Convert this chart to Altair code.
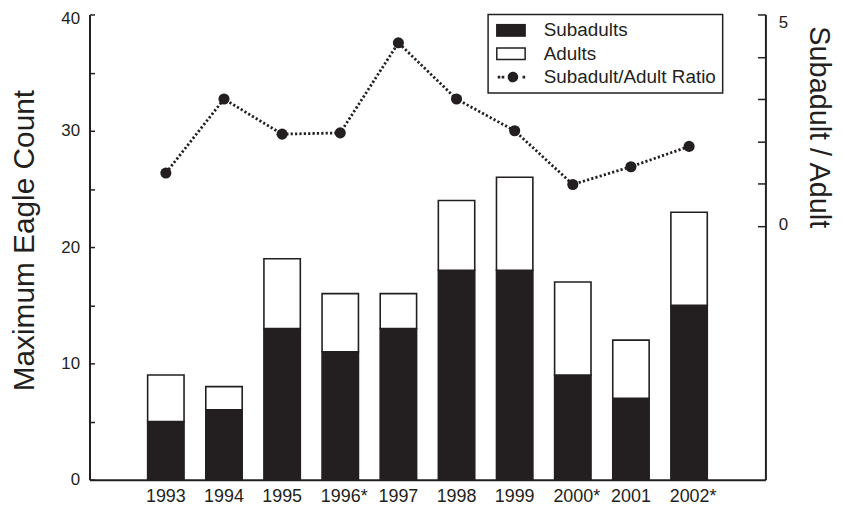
import json
import altair as alt
import pandas as pd

# ---------------- data ----------------
years = ["1993", "1994", "1995", "1996", "1997", "1998", "1999", "2000", "2001", "2002"]
starred_years = ["1996", "2000", "2002"]
subadults = [5, 6, 13, 11, 13, 18, 18, 9, 7, 15]
adults = [4, 2, 6, 5, 3, 6, 8, 8, 5, 8]
ratio = [1.25, 3.0, 2.17, 2.2, 4.33, 3.0, 2.25, 0.98, 1.4, 1.88]
count_ticks = [0, 5, 10, 15, 20, 25, 30, 35, 40]
ratio_ticks = [0, 1, 2, 3, 4, 5]
legend_entries = ["Subadults", "Adults", "Subadult/Adult Ratio"]

INK = "#231f20"
FONT = "Liberation Sans"
NARROW = "Liberation Sans Narrow, Liberation Sans"

bars_df = pd.DataFrame({
    "year": years * 2,
    "type": ["Subadults"] * len(years) + ["Adults"] * len(years),
    "count": subadults + adults,
    "stack_order": [0] * len(years) + [1] * len(years),
})
ratio_df = pd.DataFrame({"year": years, "ratio": ratio})
legend_df = pd.DataFrame({"entry": legend_entries})

# legend symbol shapes (custom SVG paths in the unit box)
solid_rect = "M-0.8,-0.65H2.2V0.65H-0.8Z"
open_rect = "M-0.8,-0.65H2.2V0.65H-0.8Z M-0.65,-0.5V0.5H2.05V-0.5Z"
dot_circle = ("M-0.63,-0.13h0.26v0.26h-0.26Z M-0.23,-0.13h0.26v0.26h-0.26Z "
              "M1.87,-0.13h0.26v0.26h-0.26Z "
              "M0.37,0a0.53,0.53 0 1,0 1.06,0a0.53,0.53 0 1,0 -1.06,0Z")

star_test = "indexof(%s, datum.value) >= 0" % json.dumps(starred_years)

x = alt.X(
    "year:N", sort=years, title=None,
    scale=alt.Scale(paddingInner=0.374, paddingOuter={"expr": "1.187"}),
    axis=alt.Axis(
        ticks=False, labelAngle=0, labelFont=NARROW, labelFontSize=18,
        labelPadding=8, labelColor=INK,
        labelExpr="(%s) ? datum.label + '*' : datum.label" % star_test,
        labelOffset={"condition": {"test": star_test, "value": 4}, "value": 0},
        domainColor=INK, domainWidth=2,
    ),
)

y_left = alt.Y(
    "count:Q", stack="zero",
    scale=alt.Scale(domain=[0, 40], nice=False),
    axis=alt.Axis(
        orient="left", values=count_ticks,
        labelExpr="datum.value % 10 === 0 ? datum.label : ''",
        labelOffset={"condition": {"test": "datum.value === 40", "value": 4}, "value": 0},
        tickSize={"expr": "-5"}, labelPadding=15, labelFontSize=17,
        title="Maximum Eagle Count", titleFontSize=30, titleX=-65, titleY=227,
        titleAngle=270, titleAlign="center", titleBaseline="middle",
    ),
)

y_right = alt.Y(
    "ratio:Q",
    scale=alt.Scale(domain=[-6, 5], nice=False, zero=False),
    axis=alt.Axis(
        orient="right", values=ratio_ticks,
        labelExpr="datum.value === 0 || datum.value === 5 ? datum.label : ''",
        labelOffset={"condition": {"test": "datum.value === 5", "value": 8}, "value": -1},
        tickSize={"expr": "-8"}, labelPadding=21, labelFontSize=17,
        title="Subadult / Adult", titleFontSize=29, titleX=53, titleY=113,
        titleAngle=90, titleAlign="center", titleBaseline="middle",
    ),
)

bars = alt.Chart(bars_df).mark_bar(stroke=INK, strokeWidth=1.6).encode(
    x=x,
    y=y_left,
    color=alt.Color("type:N", scale=alt.Scale(domain=["Subadults", "Adults"], range=[INK, "white"]), legend=None),
    order=alt.Order("stack_order:Q"),
)

line = alt.Chart(ratio_df).mark_line(color=INK, strokeWidth=2.8, strokeDash=[2.2, 2.2]).encode(
    x=x, y=y_right,
)
points = alt.Chart(ratio_df).mark_point(filled=True, size=125, color=INK, opacity=1).encode(
    x=x, y=y_right,
)

legend_layer = alt.Chart(legend_df).transform_filter("false").mark_point(
    filled=True, size=400, color=INK, opacity=1
).encode(
    shape=alt.Shape(
        "entry:N",
        scale=alt.Scale(domain=legend_entries, range=[solid_rect, open_rect, dot_circle]),
        legend=alt.Legend(
            title=None, orient="none", legendX=401, legendY=0,
            symbolSize=400, symbolFillColor=INK, symbolStrokeWidth=0, symbolOpacity=1,
            labelFont=FONT, labelFontSize=19, labelColor=INK, labelOffset=30, labelLimit=400,
            padding=6, rowPadding=3.5, strokeColor=INK, fillColor="white",
        ),
    ),
)

chart = alt.layer(
    bars, alt.layer(line, points), legend_layer
).resolve_scale(y="independent").properties(
    width=680, height=468,
    autosize=alt.AutoSizeParams(type="none"),
    padding={"left": 82, "top": 5, "right": 70, "bottom": 27},
).configure_view(stroke=None).configure_axis(
    grid=False, domainColor=INK, domainWidth=2, tickColor=INK, tickWidth=1.5,
    labelColor=INK, titleColor=INK, labelFont=FONT, titleFont=FONT, titleFontWeight="normal",
).configure_legend(strokeWidth=1.5)

chart.save("out.html", embed_options={"renderer": "svg", "actions": False})
